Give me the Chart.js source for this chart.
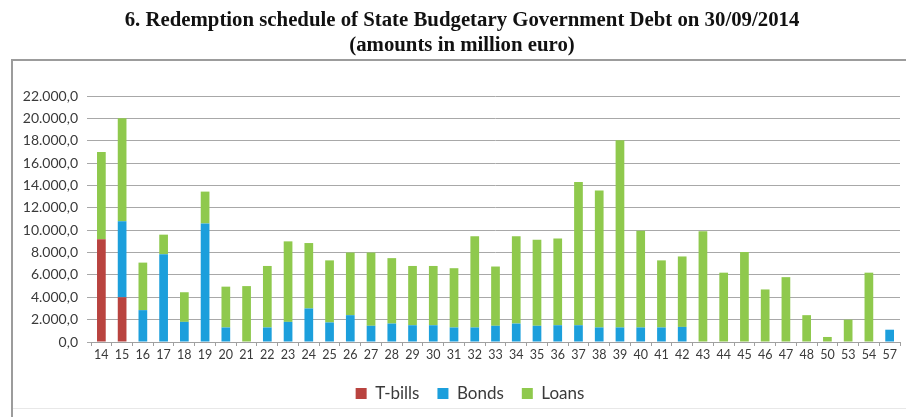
<!DOCTYPE html>
<html>
<head>
<meta charset="utf-8">
<title>Redemption schedule</title>
<script src="https://cdn.jsdelivr.net/npm/chart.js@4.4.0/dist/chart.umd.min.js"></script>
<style>
  html, body { margin: 0; padding: 0; background: #fff; }
  #wrap { width: 906px; height: 417px; position: relative; }
</style>
</head>
<body>
<div id="wrap"><canvas id="redemption"></canvas></div>
<script>
// Maturity years (20xx)
const years = ['14', '15', '16', '17', '18', '19', '20', '21', '22', '23', '24', '25', '26',
  '27', '28', '29', '30', '31', '32', '33', '34', '35', '36', '37', '38', '39', '40', '41',
  '42', '43', '44', '45', '46', '47', '48', '50', '53', '54', '57'];

// Amounts in million euro
const tbills = [9200, 4000, 0, 0, 0, 0, 0, 0, 0, 0, 0, 0, 0,
  0, 0, 0, 0, 0, 0, 0, 0, 0, 0, 0, 0, 0, 0, 0,
  0, 0, 0, 0, 0, 0, 0, 0, 0, 0, 0];
const bonds = [0, 6800, 2850, 7850, 1800, 10600, 1300, 0, 1300, 1800, 3000, 1750, 2400,
  1450, 1650, 1500, 1500, 1300, 1300, 1450, 1650, 1450, 1500, 1500, 1300, 1300, 1300, 1300,
  1350, 0, 0, 0, 0, 0, 0, 0, 0, 0, 1100];
const loans = [7800, 9200, 4250, 1750, 2650, 2850, 3650, 5000, 5500, 7200, 5850, 5550, 5600,
  6550, 5850, 5300, 5300, 5300, 8150, 5300, 7800, 7700, 7750, 12800, 12250, 16750, 8650, 6000,
  6300, 9900, 6200, 8050, 4700, 5800, 2400, 450, 2000, 6200, 0];

const titleLines = ['6. Redemption schedule of State Budgetary Government Debt on 30/09/2014',
  '(amounts in million euro)'];

// 22.000,0 style numbers
function fmt(v) {
  const s = Math.round(v).toString().replace(/\B(?=(\d{3})+(?!\d))/g, '.');
  return s + ',0';
}

// grey box around the plot, with the two title lines above it
const framePlugin = {
  id: 'frame',
  afterLayout(chart) {
    // legend sits a little right of the canvas centre
    chart.legend.left += 20;
    chart.legend.right += 20;
  },
  beforeDraw(chart) {
    const ctx = chart.ctx;
    ctx.save();
    ctx.fillStyle = '#ffffff';
    ctx.fillRect(0, 0, chart.width, chart.height);
    ctx.strokeStyle = '#e8e8e8';
    ctx.lineWidth = 1;
    ctx.beginPath();
    ctx.moveTo(12, 408.5);
    ctx.lineTo(chart.width, 408.5);
    ctx.stroke();
    ctx.strokeStyle = '#9c9c9c';
    ctx.lineWidth = 2;
    ctx.beginPath();
    ctx.moveTo(12, chart.height);
    ctx.lineTo(12, 60);
    ctx.lineTo(chart.width, 60);
    ctx.stroke();

    ctx.fillStyle = '#111';
    ctx.font = 'bold 20.8px "Liberation Serif", serif';
    ctx.textAlign = 'center';
    ctx.textBaseline = 'middle';
    ctx.fillText(titleLines[0], 462, 21);
    ctx.fillText(titleLines[1], 462, 46);
    ctx.restore();
  }
};

const sans = 'Lato, "Liberation Sans", sans-serif';

new Chart(document.getElementById('redemption'), {
  type: 'bar',
  data: {
    labels: years,
    datasets: [
      { label: 'T-bills', data: tbills, backgroundColor: '#b9433f' },
      { label: 'Bonds', data: bonds, backgroundColor: '#1c9fdc' },
      { label: 'Loans', data: loans, backgroundColor: '#8fc94d' }
    ]
  },
  options: {
    responsive: true,
    maintainAspectRatio: false,
    animation: false,
    layout: { padding: { left: 0, right: 6, top: 96, bottom: 5 } },
    datasets: { bar: { barPercentage: 0.42, categoryPercentage: 1, borderWidth: 0 } },
    scales: {
      x: {
        stacked: true,
        offset: true,
        afterFit(scale) { scale.height += 4; },
        grid: { offset: true, drawOnChartArea: false, drawTicks: true, tickLength: 4, color: '#a0a0a0' },
        border: { color: '#a0a0a0' },
        ticks: { font: { family: sans, size: 12.5 }, color: '#3a3a3a', padding: 1, maxRotation: 0, autoSkip: false }
      },
      y: {
        stacked: true,
        min: 0,
        max: 22000,
        afterFit(scale) { scale.width = 91; },
        grid: { color: '#a8a8a8', tickLength: 4 },
        border: { display: false },
        ticks: { stepSize: 2000, font: { family: sans, size: 14 }, color: '#3a3a3a', padding: 9, callback: v => fmt(v) }
      }
    },
    plugins: {
      legend: {
        position: 'bottom',
        labels: {
          font: { family: sans, size: 17 },
          color: '#3a3a3a',
          boxWidth: 11,
          boxHeight: 11,
          padding: 18
        }
      },
      tooltip: { enabled: false }
    }
  },
  plugins: [framePlugin]
});
</script>
</body>
</html>
